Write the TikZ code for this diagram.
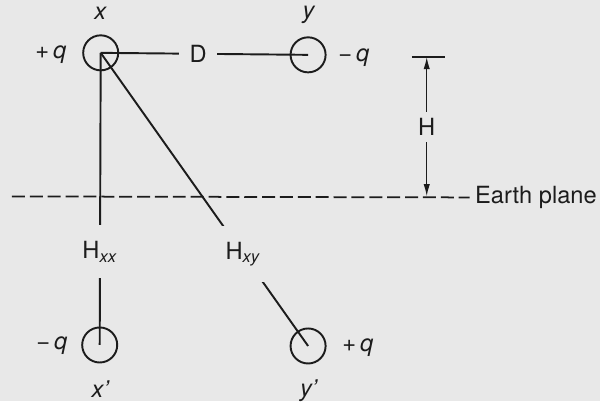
\documentclass[tikz,border=0pt]{standalone}
\usepackage{fontspec}
\setmainfont{TeX Gyre Heros}
\usepackage{xcolor}
\usetikzlibrary{arrows.meta}
\definecolor{paper}{RGB}{232,232,232}
\definecolor{ink}{RGB}{28,28,28}

\begin{document}
\begin{tikzpicture}[x=0.02cm, y=-0.02cm, font=\fontsize{13.5}{16}\selectfont, text=ink,
    conductor/.style={circle, draw=ink, line width=1.1pt, minimum size=20pt, inner sep=0pt},
    wire/.style={draw=ink, line width=1.1pt},
    gap/.style={fill=paper, inner xsep=2pt, inner ysep=2pt},
    dimline/.style={draw=ink, line width=0.8pt},
    earthline/.style={draw=ink, line width=1pt, dash pattern=on 7.4pt off 2.8pt}]
    \fill[paper] (0,0) rectangle (602,402);

    \node[conductor] (x) at (101,53) {};
    \node[conductor] (y) at (309,55) {};
    \node[conductor] (xi) at (100,346) {};
    \node[conductor] (yi) at (309,347) {};

    \node (xlbl) at (101,13) {\textit{x}};
    \node (ylbl) at (310,15) {\textit{y}};
    \node (xilbl) at (101,390) {\textit{x'}};
    \node (yilbl) at (310,392) {\textit{y'}};
    \node (qx) at (51,55) {+\,\textit{q}};
    \node (qy) at (355,58) {−\,\textit{q}};
    \node (qxi) at (52,347) {−\,\textit{q}};
    \node (qyi) at (359,349) {+\,\textit{q}};

    \node[anchor=west, inner xsep=3pt] (earth) at (471,198) {Earth plane};
    \coordinate (edge) at (12,197);
    \draw[earthline] (edge) -- (earth.west);

    \draw[wire] (x.center) -- node[gap, pos=0.47, inner xsep=6pt] (dlbl) {D} (y.center);
    \draw[wire] (x.center) -- node[gap, pos=0.68, inner ysep=9pt] (hxx) {H\textsubscript{\textit{xx}}} (xi.center);
    \draw[wire] (x.center) -- node[gap, pos=0.687, inner xsep=4pt, inner ysep=9pt] (hxy) {H\textsubscript{\textit{xy}}} (yi.center);

    \coordinate (htop) at (428,57);
    \coordinate (hbot) at (428,197);
    \draw[dimline] (413,57) -- (446,57);
    \draw[dimline, {Latex[length=7pt, width=3.6pt]}-{Latex[length=7pt, width=3.6pt]}] (htop) -- node[gap, inner ysep=3.6pt] (hlbl) {H} (hbot);
\end{tikzpicture}
\end{document}
